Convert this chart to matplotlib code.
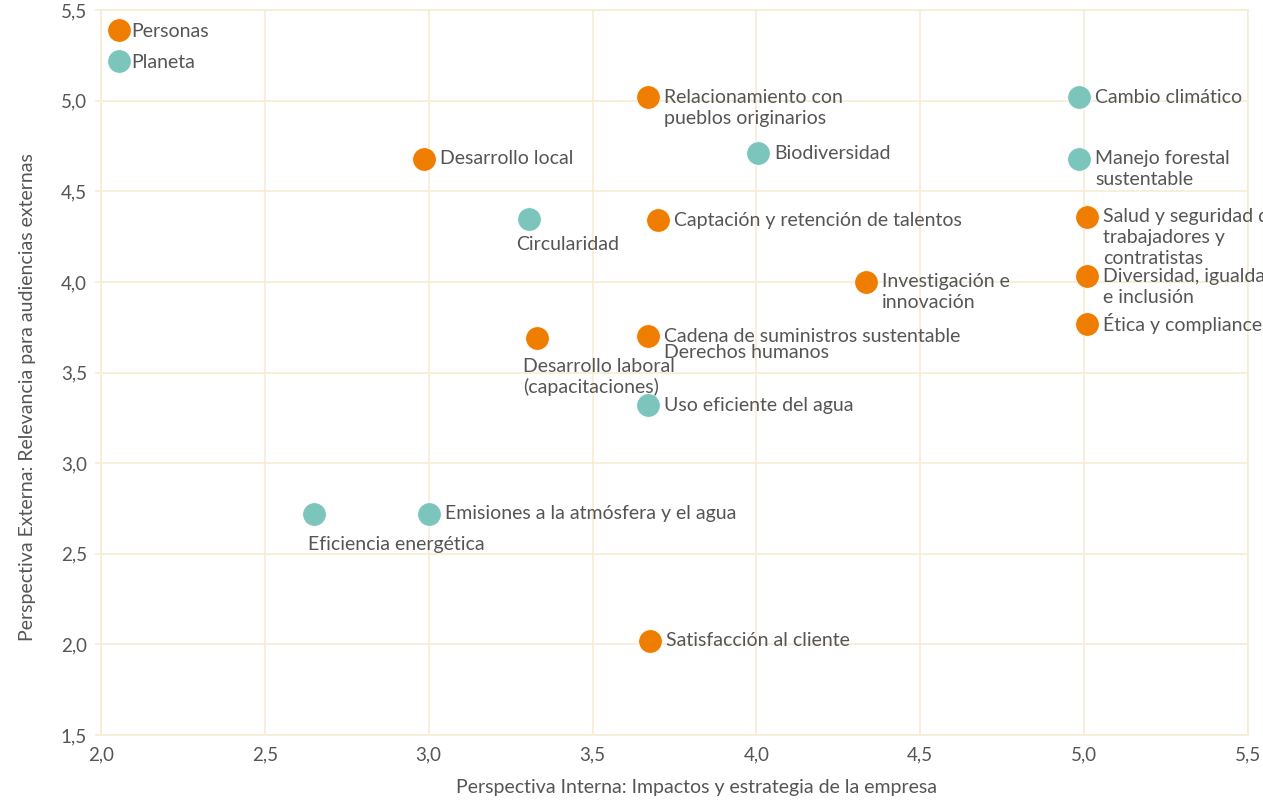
import matplotlib.pyplot as plt
from matplotlib.ticker import FuncFormatter
from matplotlib.lines import Line2D

# Datos
temas = [
    "Relacionamiento con\npueblos originarios", "Cambio climático", "Desarrollo local",
    "Biodiversidad", "Manejo forestal\nsustentable", "Circularidad",
    "Captación y retención de talentos", "Salud y seguridad de\ntrabajadores y\ncontratistas",
    "Investigación e\ninnovación", "Diversidad, igualdad\ne inclusión", "Ética y compliance",
    "Desarrollo laboral\n(capacitaciones)", "Cadena de suministros sustentable",
    "Derechos humanos", "Uso eficiente del agua", "Eficiencia energética",
    "Emisiones a la atmósfera y el agua", "Satisfacción al cliente",
]
interna = [3.67, 4.985, 2.985, 4.005, 4.985, 3.305, 3.70, 5.01, 4.335, 5.01, 5.01,
           3.33, 3.67, 3.67, 3.67, 2.65, 3.00, 3.675]
externa = [5.02, 5.02, 4.68, 4.71, 4.68, 4.35, 4.34, 4.36, 4.00, 4.03, 3.77,
           3.69, 3.70, 3.70, 3.32, 2.72, 2.72, 2.02]
grupo = ["Personas", "Planeta", "Personas", "Planeta", "Planeta", "Planeta",
         "Personas", "Personas", "Personas", "Personas", "Personas",
         "Personas", "Personas", "Personas", "Planeta", "Planeta",
         "Planeta", "Personas"]

colores = {"Personas": "#ef7d00", "Planeta": "#7cc5bd"}
grid_color = "#f6ecd2"
text_color = "#555555"

# posición de etiquetas (px respecto al centro del punto); por defecto a la derecha
offsets = {
    "Circularidad": (-13, -26),
    "Desarrollo laboral\n(capacitaciones)": (-14, -28),
    "Derechos humanos": (16, -16),
    "Eficiencia energética": (-6, -31),
}

plt.rcParams['font.family'] = ['Lato', 'DejaVu Sans']

fig = plt.figure(figsize=(12.63, 8.01), dpi=100)
ax = fig.add_axes([0.080, 0.0824, 0.908, 0.905])

for g in ["Personas", "Planeta"]:
    xs = [x for x, gg in zip(interna, grupo) if gg == g]
    ys = [y for y, gg in zip(externa, grupo) if gg == g]
    ax.scatter(xs, ys, s=290, color=colores[g], edgecolor='white', linewidth=0.6,
               zorder=3, clip_on=False)

px = 72 / 100
line_h = 21
for t, x, y in zip(temas, interna, externa):
    dx, dy = offsets.get(t, (16, 0))
    for i, line in enumerate(t.split("\n")):
        ax.annotate(line, (x, y), xytext=(dx * px, (dy - i * line_h) * px),
                    textcoords='offset points', ha='left', va='center',
                    fontsize=14, color=text_color, zorder=4,
                    annotation_clip=False)

ax.set_xlim(2.0, 5.5)
ax.set_ylim(1.5, 5.5)
ax.set_xticks([2.0, 2.5, 3.0, 3.5, 4.0, 4.5, 5.0, 5.5])
ax.set_yticks([1.5, 2.0, 2.5, 3.0, 3.5, 4.0, 4.5, 5.0, 5.5])
fmt = FuncFormatter(lambda v, p: f"{v:.1f}".replace(".", ","))
ax.xaxis.set_major_formatter(fmt)
ax.yaxis.set_major_formatter(fmt)
ax.grid(True, color=grid_color, linewidth=1.2, zorder=0)
ax.set_axisbelow(True)
for s in ax.spines.values():
    s.set_color(grid_color)
    s.set_linewidth(1.2)
ax.tick_params(axis='x', length=0, pad=8, labelsize=13.5, labelcolor=text_color)
ax.tick_params(axis='y', length=4, width=1.2, color=grid_color, pad=6,
               labelsize=13.5, labelcolor=text_color)

ax.set_xlabel("Perspectiva Interna: Impactos y estrategia de la empresa",
              fontsize=14, color=text_color)
ax.set_ylabel("Perspectiva Externa: Relevancia para audiencias externas",
              fontsize=14, color=text_color)
ax.xaxis.set_label_coords(0.519, -0.061)
ax.yaxis.set_label_coords(-0.057, 0.466)

handles = [Line2D([], [], marker='o', linestyle='none', markersize=17,
                  markerfacecolor=colores[g], markeredgecolor='white',
                  markeredgewidth=0.6) for g in ["Personas", "Planeta"]]
ax.legend(handles, ["Personas", "Planeta"], loc='upper left',
          bbox_to_anchor=(0.0, 0.993), frameon=False, fontsize=14,
          handlelength=1.0, handletextpad=0.15, labelspacing=0.72,
          labelcolor=text_color, borderaxespad=0)

plt.savefig("out.png", dpi=100)
